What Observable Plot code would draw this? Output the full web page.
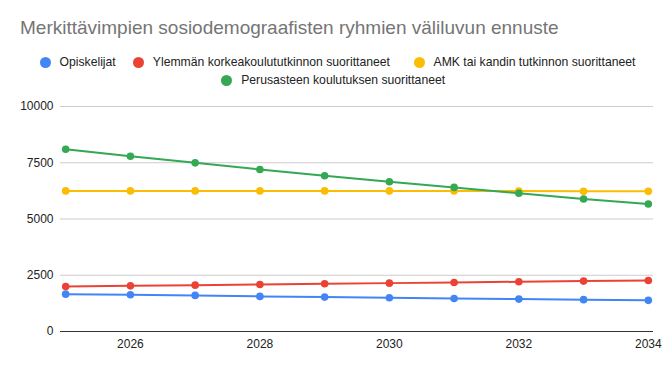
<!DOCTYPE html>
<html><head><meta charset="utf-8">
<script src="https://cdn.jsdelivr.net/npm/d3@7"></script>
<script src="https://cdn.jsdelivr.net/npm/@observablehq/plot@0.6"></script>
<style>
body{margin:0;background:#fff;font-family:Arial,"Liberation Sans",sans-serif;}
#wrap{position:relative;width:672px;height:371px;overflow:hidden;}
#title{position:absolute;left:20px;top:18px;font-size:19px;line-height:19px;color:#757575;white-space:nowrap;}
.dot{position:absolute;width:11px;height:11px;border-radius:50%;}
.lt{position:absolute;font-size:12.2px;line-height:14px;color:#222;white-space:nowrap;}
#chart{position:absolute;left:0;top:90px;}
</style></head>
<body><div id="wrap"><div id="title"></div><div id="legend"></div><div id="chart"></div></div>
<script>
const title = "Merkittävimpien sosiodemograafisten ryhmien väliluvun ennuste";
const years = [2025, 2026, 2027, 2028, 2029, 2030, 2031, 2032, 2033, 2034];
const seriesNames = ["Opiskelijat", "Ylemmän korkeakoulututkinnon suorittaneet", "AMK tai kandin tutkinnon suorittaneet", "Perusasteen koulutuksen suorittaneet"];
const opiskelijat = [1660, 1635, 1605, 1560, 1530, 1500, 1470, 1440, 1415, 1385];
const ylemman = [2000, 2030, 2060, 2090, 2120, 2150, 2180, 2210, 2240, 2270];
const amk = [6250, 6250, 6250, 6250, 6250, 6250, 6245, 6240, 6230, 6230];
const perusaste = [8100, 7790, 7495, 7200, 6920, 6655, 6405, 6145, 5890, 5670];
const yTicks = [0, 2500, 5000, 7500, 10000];
const xTicks = [2026, 2028, 2030, 2032, 2034];
const colors = ["#4285F4", "#EA4335", "#FBBC04", "#34A853"];

const valuesBySeries = [opiskelijat, ylemman, amk, perusaste];
const data = [];
seriesNames.forEach((s, i) => years.forEach((y, j) => data.push({series: s, year: y, value: valuesBySeries[i][j]})));

document.getElementById("title").textContent = title;

// legend layout (dot centre x, row centre y)
const legLayout = [[45, 62.3], [138.3, 62.3], [419, 62.3], [226.7, 80.5]];
const legend = document.getElementById("legend");
seriesNames.forEach((s, i) => {
  const [cx, cy] = legLayout[i];
  const d = document.createElement("div");
  d.className = "dot";
  d.style.left = (cx - 5.5) + "px";
  d.style.top = (cy - 5.5) + "px";
  d.style.background = colors[i];
  legend.appendChild(d);
  const t = document.createElement("div");
  t.className = "lt";
  t.style.left = (cx + 14.5) + "px";
  t.style.top = (cy - 7.5) + "px";
  t.textContent = s;
  legend.appendChild(t);
});

const chart = Plot.plot({
  width: 672,
  height: 281,
  marginTop: 16,
  marginBottom: 40,
  marginLeft: 60,
  marginRight: 19,
  style: {fontFamily: "Arial, 'Liberation Sans', sans-serif", fontSize: "12px", color: "#222"},
  x: {domain: [2024.92, 2034.08], ticks: xTicks, tickFormat: d => String(d), tickSize: 0, tickPadding: 8, label: null},
  y: {domain: [0, 10000], ticks: yTicks, tickFormat: d => String(d), tickSize: 0, tickPadding: 7, label: null},
  color: {domain: seriesNames, range: colors},
  marks: [
    Plot.gridY(yTicks, {stroke: "#cccccc", strokeOpacity: 1}),
    Plot.ruleY([0], {stroke: "#333"}),
    Plot.axisX({ticks: xTicks, tickFormat: d => String(d), tickSize: 0, tickPadding: 8, label: null}),
    Plot.axisY({ticks: yTicks, tickFormat: d => String(d), tickSize: 0, tickPadding: 7, label: null}),
    Plot.line(data, {x: "year", y: "value", stroke: "series", strokeWidth: 2}),
    Plot.dot(data, {x: "year", y: "value", fill: "series", r: 3.8})
  ]
});
document.getElementById("chart").appendChild(chart);
</script></body></html>
